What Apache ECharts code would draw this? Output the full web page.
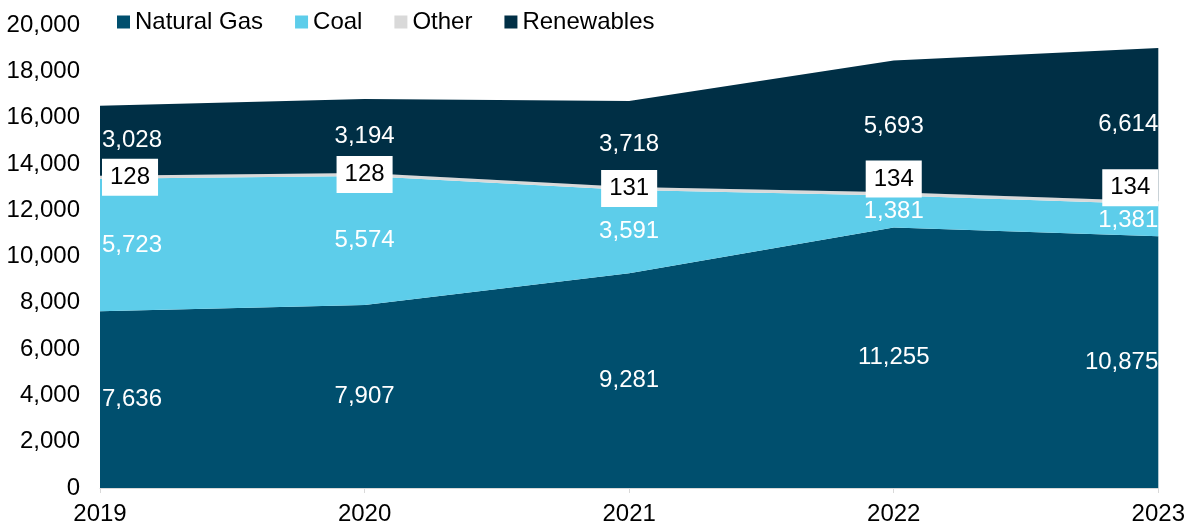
<!DOCTYPE html>
<html>
<head>
<meta charset="utf-8">
<script src="https://cdn.jsdelivr.net/npm/echarts@6/dist/echarts.min.js"></script>
<style>
html,body{margin:0;padding:0;background:#fff;}
#chart{width:1188px;height:526px;}
</style>
</head>
<body>
<div id="chart"></div>
<script>
// ---- data ----
var years = ['2019', '2020', '2021', '2022', '2023'];
var naturalGas = [7636, 7907, 9281, 11255, 10875];
var coal = [5723, 5574, 3591, 1381, 1381];
var other = [128, 128, 131, 134, 134];
var renewables = [3028, 3194, 3718, 5693, 6614];
var seriesNames = ['Natural Gas', 'Coal', 'Other', 'Renewables'];
var yTicks = [0, 2000, 4000, 6000, 8000, 10000, 12000, 14000, 16000, 18000, 20000];

// ---- style ----
var colors = ['#004F6E', '#5DCDEA', '#D9D9D9', '#002F45'];
var FONT = '"Liberation Sans", Arial, sans-serif';
// vertical label nudges (px) per band, per year, to mimic the reference placement
var labelNudge = {
  'Natural Gas': [0, 0, 0, 0, 0],
  'Coal': [0, 0, 0, 0, 0],
  'Other': [0, 0, 0, -15, -15],
  'Renewables': [0, 0, 0, 0, 0]
};

var bands = [naturalGas, coal, other, renewables];

function fmt(v) { return v.toLocaleString('en-US'); }

var areaSeries = bands.map(function (arr, i) {
  return {
    name: seriesNames[i],
    type: 'line',
    stack: 'total',
    data: arr,
    symbol: 'none',
    showSymbol: false,
    lineStyle: { width: 0 },
    areaStyle: { color: colors[i], opacity: 1 },
    itemStyle: { color: colors[i] },
    emphasis: { disabled: true },
    silent: true,
    z: 2
  };
});

// label overlay: points at the middle of each band
var labelSeries = bands.map(function (arr, i) {
  var name = seriesNames[i];
  var isOther = name === 'Other';
  var data = arr.map(function (v, j) {
    var base = 0;
    for (var k = 0; k < i; k++) base += bands[k][j];
    var item = {
      value: [j, base + v / 2, v],
      label: {
        offset: [0, labelNudge[name][j]]
      }
    };
    if (j === 0) { item.label.align = 'left'; item.label.offset = [2, labelNudge[name][j]]; }
    if (j === arr.length - 1) { item.label.align = 'right'; }
    return item;
  });
  return {
    name: name + '_lbl',
    type: 'scatter',
    data: data,
    symbolSize: 0,
    silent: true,
    z: 5,
    itemStyle: { opacity: 1 },
    emphasis: { disabled: true },
    label: {
      show: true,
      position: 'inside',
      opacity: 1,
      formatter: function (p) { return fmt(p.value[2]); },
      fontFamily: FONT,
      fontSize: 24,
      color: isOther ? '#000000' : '#ffffff',
      backgroundColor: isOther ? '#ffffff' : 'transparent',
      padding: isOther ? [7, 8, 6, 8] : 0,
      verticalAlign: 'middle'
    }
  };
});

var chart = echarts.init(document.getElementById('chart'), null, { renderer: 'canvas' });
chart.setOption({
  animation: false,
  backgroundColor: '#ffffff',
  color: colors,
  grid: { left: 100, right: 28, top: 25, bottom: 37, containLabel: false },
  legend: {
    data: seriesNames.map(function (n, i) { return { name: n, icon: 'rect', itemStyle: { color: colors[i] } }; }),
    left: 112,
    top: 5,
    itemWidth: 13,
    itemHeight: 13,
    itemGap: 32,
    textStyle: { fontFamily: FONT, fontSize: 24, color: '#000000' },
    selectedMode: false
  },
  xAxis: {
    type: 'category',
    data: years,
    boundaryGap: false,
    axisLine: { show: true, lineStyle: { color: '#D9D9D9', width: 1 } },
    axisTick: { show: true, length: 5, lineStyle: { color: '#D9D9D9' } },
    axisLabel: { fontFamily: FONT, fontSize: 24, color: '#000000', margin: 14 },
    splitLine: { show: false },
    z: 10
  },
  yAxis: {
    type: 'value',
    min: yTicks[0],
    max: yTicks[yTicks.length - 1],
    interval: yTicks[1] - yTicks[0],
    axisLine: { show: false },
    axisTick: { show: false },
    splitLine: { show: false },
    axisLabel: { fontFamily: FONT, fontSize: 24, color: '#000000', margin: 20, formatter: function (v) { return fmt(v); } }
  },
  series: areaSeries.concat(labelSeries)
});
</script>
</body>
</html>
